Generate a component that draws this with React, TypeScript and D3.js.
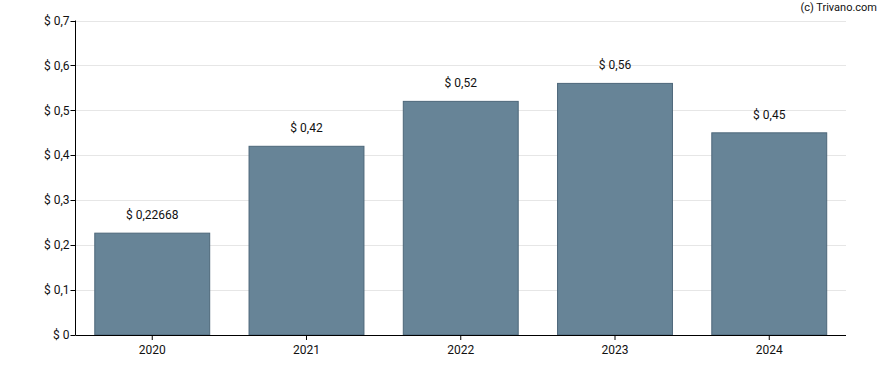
import React from "react";
import * as d3 from "d3";

const years = ["2020", "2021", "2022", "2023", "2024"];
const values = [0.22668, 0.42, 0.52, 0.56, 0.45];
const labels = ["$ 0,22668", "$ 0,42", "$ 0,52", "$ 0,56", "$ 0,45"];
const yTicks = [0, 0.1, 0.2, 0.3, 0.4, 0.5, 0.6, 0.7];

const W = 888, H = 370;
const M = { left: 75.5, right: 42, top: 20.5, bottom: 35 };

export default function App() {
  const x = d3.scaleBand<string>().domain(years).range([M.left, W - M.right]).paddingInner(0.255).paddingOuter(0.125);
  const y = d3.scaleLinear().domain([0, 0.7]).range([H - M.bottom, M.top]);
  const font = "Roboto, 'Liberation Sans', Arial, sans-serif";
  const fmt = (v: number) => "$ " + String(Math.round(v * 10) / 10).replace(".", ",");
  return (
    <svg width={W} height={H} style={{ position: "absolute", left: 0, top: 0 }} fontFamily={font}>
      <rect width={W} height={H} fill="#fff" />
      {yTicks.map((t) => (
        <g key={t}>
          {t > 0 && <line x1={M.left} x2={W - M.right} y1={Math.round(y(t)) + 0.5} y2={Math.round(y(t)) + 0.5} stroke="#e6e6e6" />}
          <line x1={M.left - 5} x2={M.left} y1={Math.round(y(t)) + 0.5} y2={Math.round(y(t)) + 0.5} stroke="#000" />
          <text x={M.left - 6} y={y(t)} dy="0.35em" textAnchor="end" fontSize={12} fill="#111">{fmt(t)}</text>
        </g>
      ))}
      {years.map((yr, i) => (
        <g key={yr}>
          <rect x={x(yr)!} y={y(values[i])} width={x.bandwidth()} height={y(0) - y(values[i])} fill="#678497" stroke="#4d677a" strokeWidth={1} />
          <text x={x(yr)! + x.bandwidth() / 2} y={y(values[i]) - 14} textAnchor="middle" fontSize={12} fill="#111">{labels[i]}</text>
          <line x1={x(yr)! + x.bandwidth() / 2} x2={x(yr)! + x.bandwidth() / 2} y1={H - M.bottom} y2={H - M.bottom + 5} stroke="#000" />
          <text x={x(yr)! + x.bandwidth() / 2} y={H - M.bottom + 19} textAnchor="middle" fontSize={12} fill="#111">{yr}</text>
        </g>
      ))}
      <line x1={M.left} x2={M.left} y1={M.top} y2={H - M.bottom} stroke="#000" />
      <line x1={M.left} x2={W - M.right} y1={H - M.bottom + 0.5} y2={H - M.bottom + 0.5} stroke="#000" />
      <text x={877} y={11} textAnchor="end" fontSize={11} fill="#111">(c) Trivano.com</text>
    </svg>
  );
}
